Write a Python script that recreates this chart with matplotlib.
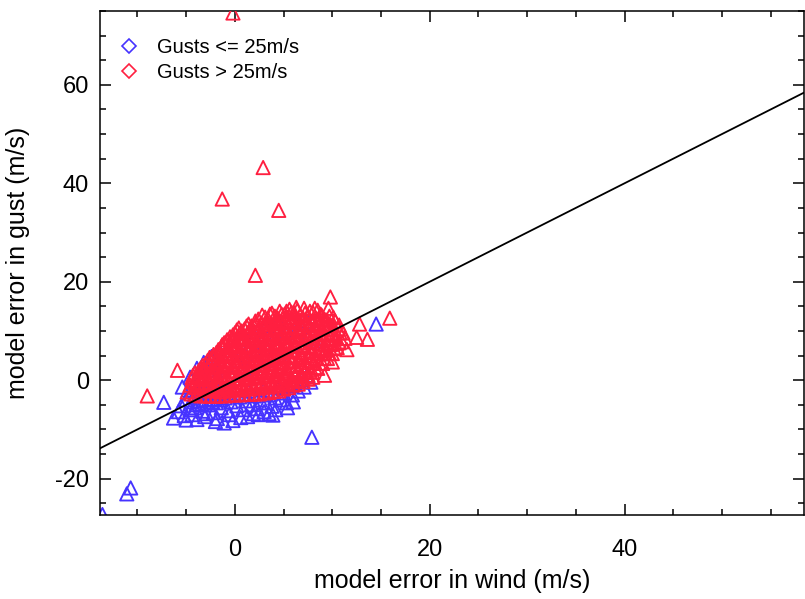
import matplotlib
matplotlib.use("Agg")
import matplotlib.pyplot as plt
from matplotlib.lines import Line2D
from matplotlib.ticker import MultipleLocator

plt.rcParams['font.family'] = ['Liberation Sans', 'DejaVu Sans']
plt.rcParams['axes.unicode_minus'] = False

# ---------------- data ----------------
blue_x = [
    -5.5, -5.0, -4.6, -4.2, -4.0, -3.6, -3.3, -3.0, -2.7, -2.4,
    -2.2, -1.9, -1.6, -1.4, -1.0, -0.7, -0.4, -0.1, 0.2, 0.5,
    0.8, 1.1, 1.4, 1.7, 2.0, 2.3, 2.6, 2.9, 3.2, 3.5,
    3.8, 4.1, 4.4, 4.7, 5.0, 5.3, 5.6, 5.9, 6.2, 6.5,
    6.8, 7.1, 7.4, 7.8, -4.8, -4.3, -3.8, -3.4, -2.9, -2.5,
    -2.0, -1.6, -1.2, -0.8, -0.3, 0.2, 0.6, 1.0, 1.5, 2.0,
    2.6, 3.0, 3.6, 4.0, 4.6, 5.2, 5.8, 6.4, 7.0, 7.6,
    8.2, -5.4, -4.6, -3.9, -3.2, -2.4, -1.6, -0.7, 0.4, 1.8,
    3.2, 4.4, 6.7, -7.3, -6.3, -5.0, -2.9, -1.1, -3.6, 3.9,
    -4.4, -3.1, -1.8, -0.6, 0.6, 1.9, 3.0, 4.2, 5.4, 6.0,
    -4.5, -4.1, -3.7, -3.4, -3.0, -2.6, -2.3, -1.9, -1.5, -1.2,
    -5.8, -5.2, -3.9, -2.0, -0.2, 1.3, 2.4, 3.5, 2.3, 7.4,
    7.9, 14.5, -11.1, -10.7, -13.6,
]
blue_y = [
    -5.2, -4.0, -6.0, -3.2, -5.0, -4.2, -6.3, -2.8, -5.0, -3.8,
    -6.6, -4.6, -2.5, -5.6, -3.6, -6.2, -4.4, -2.6, -5.2, -3.4,
    -6.0, -4.2, -2.2, -5.0, -3.2, -5.8, -4.0, -2.0, -4.6, -3.0,
    -5.3, -3.6, -1.6, -4.0, -2.6, -4.6, -1.2, -3.0, -0.6, -2.2,
    0.2, -1.4, 1.0, -0.4, -2.0, -1.0, -1.8, 0.0, -1.0, 1.0,
    -0.6, 2.0, 0.4, 3.0, 1.0, 4.0, 1.8, 5.2, 2.4, 6.0,
    3.0, 7.4, 4.0, 8.6, 5.0, 9.6, 6.0, 10.4, 7.0, 9.0,
    8.0, -1.4, 0.6, 2.4, 3.6, 4.8, 6.0, 6.1, 8.6, 9.8,
    11.0, 12.2, 11.6, -4.5, -7.7, -8.1, -6.8, -8.7, 1.6, -7.1,
    -7.0, -7.4, -7.8, -7.0, -7.6, -6.8, -6.4, -6.0, -5.6, -4.4,
    -4.4, -5.6, -3.0, -4.8, -4.0, -3.2, -4.4, -3.0, -4.0, -2.4,
    -6.4, -7.2, -8.0, -8.4, -8.2, -7.4, -7.0, -6.8, 10.0, 12.0,
    -11.6, 11.4, -23.1, -21.9, -27.3,
]

red_x = [
    -4.6, -4.4,
    -4.0, -3.9, -4.1,
    -3.5, -3.4, -3.6, -3.5,
    -3.0, -2.9, -3.1, -3.0,
    -2.5, -2.6, -2.4, -2.5, -2.6,
    -2.0, -1.9, -2.1, -2.0, -1.9,
    -1.5, -1.6, -1.4, -1.5, -1.6, -1.4,
    -1.0, -0.9, -1.1, -1.0, -0.9, -1.1,
    -0.5, -0.6, -0.4, -0.5, -0.6, -0.4, -0.5,
    0.0, 0.1, -0.1, 0.0, 0.1, -0.1, 0.0,
    0.5, 0.4, 0.6, 0.5, 0.4, 0.6, 0.5, 0.4,
    1.0, 1.1, 0.9, 1.0, 1.1, 0.9, 1.0,
    1.5, 1.4, 1.6, 1.5, 1.4, 1.6, 1.5, 1.4,
    2.0, 2.1, 1.9, 2.0, 2.1, 1.9, 2.0, 2.1,
    2.5, 2.4, 2.6, 2.5, 2.4, 2.6, 2.5, 2.4,
    3.0, 3.1, 2.9, 3.0, 3.1, 2.9, 3.0, 3.1,
    3.5, 3.4, 3.6, 3.5, 3.4, 3.6, 3.5, 3.4, 3.6,
    4.0, 4.1, 3.9, 4.0, 4.1, 3.9, 4.0, 4.1,
    4.5, 4.4, 4.6, 4.5, 4.4, 4.6, 4.5, 4.4, 4.6,
    5.0, 5.1, 4.9, 5.0, 5.1, 4.9, 5.0, 5.1,
    5.5, 5.4, 5.6, 5.5, 5.4, 5.6, 5.5, 5.4, 5.6,
    6.0, 6.1, 5.9, 6.0, 6.1, 5.9, 6.0, 6.1,
    6.5, 6.4, 6.6, 6.5, 6.4, 6.6, 6.5, 6.4,
    7.0, 7.1, 6.9, 7.0, 7.1, 6.9, 7.0, 7.1,
    7.5, 7.4, 7.6, 7.5, 7.4, 7.6, 7.5,
    8.0, 8.1, 7.9, 8.0, 8.1, 7.9, 8.0,
    8.5, 8.4, 8.6, 8.5, 8.4, 8.6, 8.5,
    9.0, 9.1, 8.9, 9.0, 9.1, 8.9,
    9.5, 9.4, 9.6, 9.5, 9.4, 9.6,
    10.0, 10.1, 9.9, 10.0, 10.1,
    10.5, 10.4, 10.6,
    11.0, 11.1,
    # second, interleaved set of the dense core
    -4.2, -4.3,
    -3.7, -3.8, -3.7,
    -3.2, -3.3, -3.2, -3.3,
    -2.7, -2.8, -2.7, -2.8,
    -2.2, -2.3, -2.2, -2.3, -2.2,
    -1.7, -1.8, -1.7, -1.8, -1.7,
    -1.2, -1.3, -1.2, -1.3, -1.2, -1.3,
    -0.7, -0.8, -0.7, -0.8, -0.7, -0.8,
    -0.2, -0.3, -0.2, -0.3, -0.2, -0.3, -0.2,
    0.2, 0.3, 0.2, 0.3, 0.2, 0.3, 0.2,
    0.7, 0.8, 0.7, 0.8, 0.7, 0.8, 0.7,
    1.2, 1.3, 1.2, 1.3, 1.2, 1.3, 1.2,
    1.7, 1.8, 1.7, 1.8, 1.7, 1.8, 1.7,
    2.2, 2.3, 2.2, 2.3, 2.2, 2.3, 2.2,
    2.7, 2.8, 2.7, 2.8, 2.7, 2.8, 2.7, 2.8,
    3.2, 3.3, 3.2, 3.3, 3.2, 3.3, 3.2,
    3.7, 3.8, 3.7, 3.8, 3.7, 3.8, 3.7, 3.8,
    4.2, 4.3, 4.2, 4.3, 4.2, 4.3, 4.2,
    4.7, 4.8, 4.7, 4.8, 4.7, 4.8, 4.7, 4.8,
    5.2, 5.3, 5.2, 5.3, 5.2, 5.3, 5.2, 5.3,
    5.7, 5.8, 5.7, 5.8, 5.7, 5.8, 5.7, 5.8,
    6.2, 6.3, 6.2, 6.3, 6.2, 6.3, 6.2, 6.3,
    6.7, 6.8, 6.7, 6.8, 6.7, 6.8, 6.7,
    7.2, 7.3, 7.2, 7.3, 7.2, 7.3, 7.2,
    7.7, 7.8, 7.7, 7.8, 7.7, 7.8, 7.7,
    8.2, 8.3, 8.2, 8.3, 8.2, 8.3,
    8.7, 8.8, 8.7, 8.8, 8.7, 8.8,
    9.2, 9.3, 9.2, 9.3, 9.2,
    9.7, 9.8, 9.7, 9.8, 9.7,
    10.2, 10.3, 10.2, 10.3,
    10.7, 10.8, 10.7,
    # lower edge of the red cloud
    -4.9, -4.5, -4.0, -3.5, -3.0, -2.5, -2.0, -1.5, -1.0, -0.5,
    0.0, 0.5, 1.0, 1.5, 2.0, 2.5, 3.0, 3.5, 4.0, 4.5,
    5.0, 5.5, 6.0, 6.5, 7.0, 7.5, 8.0,
    # scattered outliers
    -0.2, 2.9, -1.3, 4.5, 2.1, 9.8, 15.9, -9.0, -5.9, 12.8,
    13.6, 10.0, 9.2, 11.3, 12.5, 8.2, 11.5,
]
red_y = [
    -1.0, 0.5,
    -1.5, 0.0, 1.5,
    -2.0, -0.5, 1.0, 2.5,
    -1.8, 0.2, 1.8, 3.4,
    -2.2, -0.4, 1.4, 3.0, 4.6,
    -2.0, 0.0, 2.0, 3.8, 5.6,
    -2.4, -0.4, 1.6, 3.4, 5.2, 6.8,
    -2.0, 0.2, 2.2, 4.2, 6.0, 7.6,
    -2.2, -0.2, 1.8, 3.8, 5.6, 7.4, 8.8,
    -1.8, 0.4, 2.6, 4.6, 6.4, 8.2, 9.6,
    -2.0, 0.0, 2.0, 4.0, 6.0, 7.8, 9.6, 10.6,
    -1.6, 0.6, 2.8, 4.8, 6.8, 8.6, 10.4,
    -1.8, 0.2, 2.2, 4.2, 6.2, 8.2, 10.0, 11.4,
    -1.4, 0.8, 3.0, 5.0, 7.0, 9.0, 10.8, 12.0,
    -1.6, 0.4, 2.4, 4.4, 6.4, 8.4, 10.4, 12.4,
    -1.2, 1.0, 3.2, 5.2, 7.2, 9.2, 11.2, 12.8,
    -1.4, 0.6, 2.6, 4.6, 6.6, 8.6, 10.6, 12.4, 13.4,
    -1.0, 1.2, 3.4, 5.4, 7.4, 9.4, 11.4, 13.0,
    -1.2, 0.8, 2.8, 4.8, 6.8, 8.8, 10.8, 12.6, 14.0,
    -0.6, 1.4, 3.6, 5.6, 7.6, 9.6, 11.6, 13.4,
    -0.8, 1.2, 3.0, 5.0, 7.0, 9.0, 11.0, 12.8, 14.4,
    -0.2, 1.8, 3.8, 5.8, 7.8, 9.8, 11.8, 13.6,
    0.0, 2.0, 4.2, 6.2, 8.2, 10.2, 12.2, 14.2,
    0.6, 2.6, 4.6, 6.6, 8.6, 10.6, 12.6, 14.6,
    1.0, 3.0, 5.0, 7.0, 9.0, 11.0, 13.0,
    1.6, 3.6, 5.6, 7.6, 9.6, 11.6, 13.8,
    2.4, 4.4, 6.4, 8.4, 10.4, 12.4, 14.2,
    3.4, 5.4, 7.4, 9.4, 11.4, 13.2,
    4.4, 6.2, 8.2, 10.2, 12.2, 14.6,
    5.4, 7.4, 9.4, 11.2, 12.8,
    6.6, 8.6, 10.4,
    7.8, 9.6,
    # second, interleaved set of the dense core
    -0.4, 1.0,
    -1.0, 0.6, 2.0,
    -1.2, 0.4, 2.2, 3.0,
    -1.4, 0.6, 2.4, 4.0,
    -1.2, 0.8, 2.8, 4.6, 5.2,
    -1.6, 0.6, 2.6, 4.4, 6.2,
    -1.2, 1.0, 3.0, 5.0, 6.6, 7.2,
    -1.4, 0.8, 2.8, 4.8, 6.8, 8.2,
    -1.0, 1.0, 3.0, 5.0, 6.8, 8.4, 9.2,
    -1.2, 1.2, 3.4, 5.4, 7.2, 8.8, 10.2,
    -1.0, 1.0, 3.0, 5.0, 7.0, 8.8, 10.0,
    -1.0, 1.6, 3.8, 5.8, 7.8, 9.6, 11.0,
    -0.8, 1.2, 3.2, 5.2, 7.2, 9.2, 11.0,
    -0.6, 1.8, 4.0, 6.0, 8.0, 10.0, 11.6,
    -0.8, 1.4, 3.4, 5.4, 7.4, 9.4, 11.6, 13.2,
    -0.4, 2.0, 4.2, 6.2, 8.2, 10.2, 12.0,
    -0.6, 1.6, 3.6, 5.6, 7.6, 9.6, 11.6, 13.6,
    0.0, 2.2, 4.4, 6.4, 8.4, 10.4, 12.2,
    -0.2, 1.8, 3.8, 5.8, 7.8, 9.8, 11.8, 13.4,
    0.4, 2.4, 4.6, 6.6, 8.6, 10.6, 12.6, 14.0,
    0.2, 2.2, 4.0, 6.0, 8.0, 10.0, 12.0, 13.8,
    0.8, 2.8, 4.8, 6.8, 8.8, 10.8, 12.8, 14.8,
    1.0, 3.0, 5.2, 7.2, 9.2, 11.2, 13.2,
    1.6, 3.6, 5.6, 7.6, 9.6, 11.6, 13.6,
    2.0, 4.0, 6.0, 8.0, 10.0, 12.0, 14.0,
    2.6, 4.6, 6.6, 8.6, 10.6, 12.6,
    3.4, 5.4, 7.4, 9.4, 11.4, 13.4,
    4.4, 6.4, 8.4, 10.4, 12.4,
    5.4, 7.2, 9.2, 11.2, 13.0,
    6.4, 8.4, 10.4, 12.0,
    7.6, 9.6, 11.2,
    # lower edge of the red cloud
    -2.4, -2.8, -3.0, -3.2, -3.2, -3.3, -3.3, -3.2, -3.2, -3.0,
    -3.0, -3.0, -2.9, -2.9, -2.8, -2.8, -2.6, -2.5, -2.3, -2.2,
    -1.8, -1.5, -1.0, -0.8, -0.3, 0.2, 0.6,
    # scattered outliers
    74.6, 43.2, 36.8, 34.5, 21.3, 16.9, 12.6, -3.2, 2.0, 11.4,
    8.3, 3.7, 1.0, 8.5, 8.7, 14.6, 6.2,
]

line_x = [-13.9, 58.5]   # one-to-one reference line y = x
line_y = [-13.9, 58.5]

legend_labels = ["Gusts <= 25m/s", "Gusts > 25m/s"]
blue_color = "#4633ff"
red_color = "#ff1f40"

# ---------------- figure ----------------
fig = plt.figure(figsize=(8.05, 5.99), dpi=100)
ax = fig.add_axes([0.1242, 0.1402, 0.8743, 0.8414])

ax.scatter(blue_x, blue_y, marker='^', s=92, facecolors='none',
           edgecolors=blue_color, linewidths=1.35, zorder=2, clip_on=True)
ax.scatter(red_x, red_y, marker='^', s=92, facecolors='none',
           edgecolors=red_color, linewidths=1.35, zorder=3, clip_on=True)
ax.plot(line_x, line_y, color='black', lw=1.3, zorder=4)

ax.set_xlim(-13.85, 58.4)
ax.set_ylim(-27.4, 75.0)

ax.xaxis.set_major_locator(MultipleLocator(20))
ax.xaxis.set_minor_locator(MultipleLocator(5))
ax.yaxis.set_major_locator(MultipleLocator(20))
ax.yaxis.set_minor_locator(MultipleLocator(5))

ax.tick_params(which='both', direction='in', top=True, right=True, width=1.1)
ax.tick_params(which='major', length=8)
ax.tick_params(which='minor', length=4)
ax.tick_params(axis='x', which='major', labelsize=17, pad=17)
ax.tick_params(axis='y', which='major', labelsize=17, pad=8)

for sp in ax.spines.values():
    sp.set_linewidth(1.1)

ax.set_xlabel("model error in wind (m/s)", fontsize=18, labelpad=6)
ax.set_ylabel("model error in gust (m/s)", fontsize=18, labelpad=18)

handles = [
    Line2D([], [], marker='D', linestyle='none', markersize=7,
           markerfacecolor='none', markeredgecolor=blue_color, markeredgewidth=1.2),
    Line2D([], [], marker='D', linestyle='none', markersize=7,
           markerfacecolor='none', markeredgecolor=red_color, markeredgewidth=1.2),
]
ax.legend(handles, legend_labels, loc='upper left', frameon=False,
          fontsize=14.5, handlelength=0.8, handletextpad=1.0,
          borderaxespad=0.3, bbox_to_anchor=(0.01, 0.975), labelspacing=0.3)

fig.savefig("out.png", dpi=100)
